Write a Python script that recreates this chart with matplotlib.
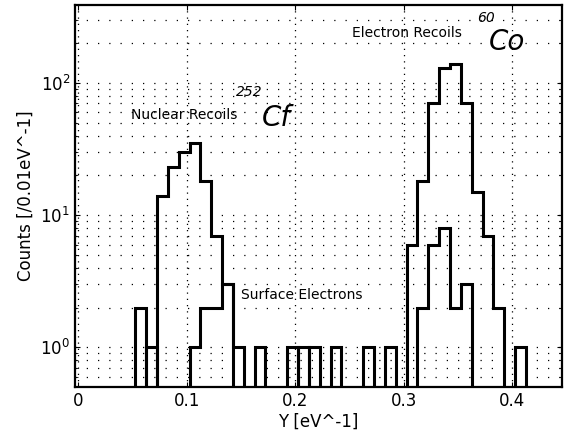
import numpy as np
from matplotlib import pyplot as plt

# bin grid: 0.01 wide bins in Y (eV^-1)
bin_width = 0.01
first_edge = 0.0525
n_bins = 36

# 252Cf run: nuclear recoils + a few gamma electron recoils (left edge of bin, counts)
cf_bins = [0.0525, 0.0725, 0.0825, 0.0925, 0.1025, 0.1125, 0.1225, 0.1325,
           0.2025, 0.3125, 0.3225, 0.3325, 0.3425, 0.3525]
cf_counts = [2, 14, 23, 30, 35, 18, 7, 3,
             1, 2, 6, 8, 2, 3]

# 60Co run: electron recoils + surface electrons
co_bins = [0.0625, 0.1025, 0.1125, 0.1225, 0.1325, 0.1425, 0.1625, 0.1925,
           0.2125, 0.2325, 0.2625, 0.2825, 0.3025, 0.3125, 0.3225, 0.3325,
           0.3425, 0.3525, 0.3625, 0.3725, 0.3825, 0.4025]
co_counts = [1, 1, 2, 2, 3, 1, 1, 1,
             1, 1, 1, 1, 6, 18, 70, 130,
             140, 70, 15, 7, 2, 1]

xticks = [0, 0.1, 0.2, 0.3, 0.4]


def to_grid(bins, counts):
    vals = np.zeros(n_bins)
    for b, c in zip(bins, counts):
        vals[int(round((b - first_edge) / bin_width))] = c
    return vals


edges = first_edge + bin_width * np.arange(n_bins + 1)

fig = plt.figure(figsize=(5.64, 4.46), dpi=100)
ax = fig.add_axes([0.133, 0.132, 0.864, 0.857])
ax.set_yscale('log')

ax.stairs(to_grid(cf_bins, cf_counts), edges, color='black', linewidth=2.2)
ax.stairs(to_grid(co_bins, co_counts), edges, color='black', linewidth=2.2)

ax.set_xlim(-0.003, 0.446)
ax.set_ylim(0.5, 390)
ax.set_xticks(xticks)
ax.set_xticklabels(['0', '0.1', '0.2', '0.3', '0.4'])

ax.grid(True, axis='x', which='major', color='black', linestyle=(0, (1, 4)), linewidth=0.9)
ax.grid(True, axis='y', which='both', color='black', linestyle=(0, (1, 8)), linewidth=0.9)
ax.tick_params(which='both', direction='in', top=True, right=True, labelsize=12)
ax.tick_params(axis='x', which='minor', bottom=False, top=False)
for s in ax.spines.values():
    s.set_linewidth(1.6)

ax.set_xlabel('Y [eV^-1]', fontsize=12, labelpad=2)
ax.set_ylabel('Counts [/0.01eV^-1]', fontsize=12, labelpad=4)

ax.text(0.098, 57, 'Nuclear Recoils', fontsize=10, ha='center', va='center')
ax.text(0.303, 240, 'Electron Recoils', fontsize=10, ha='center', va='center')
ax.text(0.150, 2.5, 'Surface Electrons', fontsize=10, ha='left', va='center')

# handwritten source labels
ax.text(0.158, 85, '252', fontsize=10, style='italic', ha='center', va='center')
ax.text(0.183, 54, 'Cf', fontsize=20, style='italic', ha='center', va='center')
ax.text(0.376, 310, '60', fontsize=10, style='italic', ha='center', va='center')
ax.text(0.395, 204, 'Co', fontsize=20, style='italic', ha='center', va='center')

plt.savefig('out.png')
